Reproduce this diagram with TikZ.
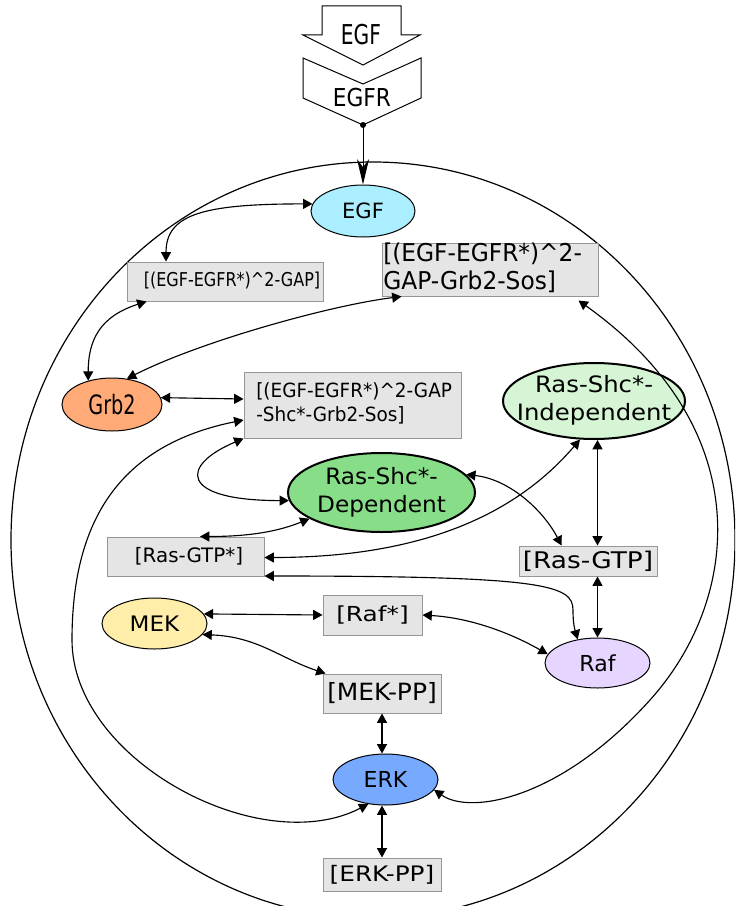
\documentclass[tikz,border=0pt]{standalone}
\usepackage{fontspec}
\setmainfont{DejaVu Sans}
\usepackage{graphicx}
\usetikzlibrary{arrows.meta,shapes.geometric,calc}
\definecolor{boxfill}{RGB}{229,229,229}
\definecolor{boxline}{RGB}{150,150,150}
\definecolor{egfc}{RGB}{170,238,255}
\definecolor{grbc}{RGB}{255,170,119}
\definecolor{depc}{RGB}{136,221,136}
\definecolor{indc}{RGB}{213,245,213}
\definecolor{rafc}{RGB}{229,213,255}
\definecolor{mekc}{RGB}{255,238,170}
\definecolor{erkc}{RGB}{119,170,255}
\newcommand{\fs}[2]{\fontsize{#1}{#2}\selectfont}
\newcommand{\sx}[2]{\scalebox{#1}[1]{#2}}
\begin{document}
\begin{tikzpicture}[x=0.75pt,y=-0.75pt,
  species/.style={ellipse,draw=black,line width=0.75pt,inner sep=0pt},
  thickspecies/.style={ellipse,draw=black,line width=1.5pt,inner sep=0pt},
  cbox/.style={rectangle,draw=boxline,fill=boxfill,line width=0.75pt,inner sep=0pt},
  txt/.style={inner sep=0pt},
  conn/.style={line width=0.85pt,{Triangle[length=7pt,width=7.5pt]}-{Triangle[length=7pt,width=7.5pt]}},
]
\useasboundingbox (0,0) rectangle (735,906);
\begin{scope}
\clip (0,0) rectangle (735,906);
% cell
\draw[line width=0.9pt] (373,540) ellipse [x radius=271.5pt, y radius=283.5pt];

% top block arrows
\draw[line width=0.75pt,fill=white] (322,6) -- (401,6) -- (401,35) -- (420,35) -- (363,65) -- (303,35) -- (322,35) -- cycle;
\draw[line width=0.75pt,fill=white] (303,58) -- (363,84) -- (421,58) -- (421,98) -- (363,125) -- (303,98) -- cycle;
\node[txt] (tegfin) at (361,35) {\fs{20.5}{24}\sx{0.74}{EGF}};
\node[txt] (tegfr) at (362,97.5) {\fs{18.5}{22}\sx{0.88}{EGFR}};
\coordinate (egfrtip) at (363,125);

% species
\node[species,fill=egfc,minimum width=78pt,minimum height=39pt] (egf) at (363,211) {};
\node[species,fill=grbc,minimum width=75pt,minimum height=39.75pt] (grb) at (112,404.5) {};
\node[thickspecies,fill=depc,minimum width=140.25pt,minimum height=59.25pt] (dep) at (381.5,492.5) {};
\node[thickspecies,fill=indc,minimum width=136.5pt,minimum height=57pt] (ind) at (594,401) {};
\node[species,fill=rafc,minimum width=78.75pt,minimum height=37.5pt] (raf) at (597.5,663) {};
\node[species,fill=mekc,minimum width=78.75pt,minimum height=38.25pt] (mek) at (154.5,623.5) {};
\node[species,fill=erkc,minimum width=78.75pt,minimum height=38.25pt] (erk) at (385.5,779.5) {};

% complexes
\node[cbox,minimum width=147pt,minimum height=29.25pt] (gap) at (225,281.5) {};
\node[cbox,minimum width=162pt,minimum height=39.75pt] (gapgrb) at (490,269.5) {};
\node[cbox,minimum width=162.75pt,minimum height=49.5pt] (gapshc) at (352.5,405) {};
\node[cbox,minimum width=117.75pt,minimum height=29.25pt] (rasstar) at (185.5,556.5) {};
\node[cbox,minimum width=103.5pt,minimum height=22.5pt] (rasgtp) at (588,561) {};
\node[cbox,minimum width=74.25pt,minimum height=30pt] (rafstar) at (372.5,615) {};
\node[cbox,minimum width=88.5pt,minimum height=29.25pt] (mekpp) at (382,693.5) {};
\node[cbox,minimum width=88.5pt,minimum height=24.75pt] (erkpp) at (382,874.5) {};

% texts
\node[txt] (tegf) at (egf) {\fs{15.8}{18}EGF};
\node[txt] (tgrb) at (grb) {\fs{20}{24}\sx{0.72}{Grb2}};
\node[txt] (tdep) at (dep) {\fs{16.9}{21}\sx{1.03}{\begin{tabular}{@{}c@{}}Ras-Shc*-\\Dependent\end{tabular}}};
\node[txt] (tind) at (ind) {\fs{16.9}{21}\sx{1.08}{\begin{tabular}{@{}c@{}}Ras-Shc*-\\Independent\end{tabular}}};
\node[txt] (traf) at (raf) {\fs{16.5}{20}Raf};
\node[txt] (tmek) at (mek) {\fs{16}{20}\sx{1.08}{MEK}};
\node[txt] (terk) at (erk) {\fs{16.5}{20}ERK};
\node[txt] (tgap) at (232,281) {\fs{14.3}{17}\sx{0.84}{[(EGF-EGFR*)\^{}2-GAP]}};
\node[txt,anchor=west] (tgapgrb) at (383,270) {\fs{18.4}{21}\sx{0.95}{\begin{tabular}{@{}l@{}}[(EGF-EGFR*)\^{}2-\\GAP-Grb2-Sos]\end{tabular}}};
\node[txt,anchor=west] (tgapshc) at (256,405) {\fs{14.7}{18}\sx{0.94}{\begin{tabular}{@{}l@{}}[(EGF-EGFR*)\^{}2-GAP\\-Shc*-Grb2-Sos]\end{tabular}}};
\node[txt] (trasstar) at (189,556.5) {\fs{14.9}{18}[Ras-GTP*]};
\node[txt] (trasgtp) at (rasgtp) {\fs{17.2}{20}\sx{1.15}{[Ras-GTP]}};
\node[txt] (trafstar) at (rafstar) {\fs{15.5}{18}\sx{1.2}{[Raf*]}};
\node[txt] (tmekpp) at (mekpp) {\fs{17.8}{20}\sx{1.05}{[MEK-PP]}};
\node[txt] (terkpp) at (erkpp) {\fs{16}{20}\sx{1.16}{[ERK-PP]}};

% connectors
\fill (egfrtip) circle (3);
\draw[line width=0.75pt,-{Stealth[length=19pt,width=9pt,inset=6pt]}] (egfrtip) -- (egf.north);

\draw[conn] ($(gap.north)+(-59,0)$) .. controls +(0,-47) and +(-110,0) .. (egf.172);
\draw[conn] ($(gap.south west)+(20,0)$) .. controls +(-47,15) and +(0,-40) .. (grb.135);
\draw[conn] (grb.60) .. controls +(73,-37) and +(-72,9) .. ($(gapgrb.south west)+(20,0)$);
\draw[conn] (grb.8) -- ($(gapshc.west)+(0,-6)$);
\draw[conn] ($(gapshc.west)+(0,15)$) .. controls (120,445) and (72,520) .. (72,640) .. controls (72,760) and (260,860) .. (erk.235);
\draw[conn] (gapshc.south west) .. controls +(-64,27) and +(-110,0) .. (dep.185);
\draw[conn] (dep.200) .. controls +(-37,15) and +(40,0) .. ($(rasstar.north)+(14.5,0)$);
\draw[conn] ($(rasstar.east)+(0,1)$) .. controls +(166,0) and +(-60,70) .. (ind.250);
\draw[conn] (dep.12) .. controls +(45,5) and +(-17,-33) .. ($(rasgtp.north west)+(43,0)$);
\draw[conn] (ind.south -| raf.north) -- (rasgtp.north -| raf.north);
\draw[conn] (rasgtp.south -| raf.north) -- (raf.north);
\draw[conn] ($(rasstar.east)+(0,19.5)$) .. controls (545,576) and (573,585) .. (573,610) .. controls (573,625) and (575,630) .. (raf.130);
\draw[conn] (rafstar.east) .. controls +(50,3) and +(-35,-20) .. (raf.170);
\draw[conn] (mek.11) -- (rafstar.west);
\draw[conn] (mek.347) .. controls +(55,2) and +(-45,-15) .. ($(mekpp.north west)+(3,0)$);
\draw[conn] (mekpp.south) -- (mekpp.south |- erk.north);
\draw[conn] (erk.south -| erkpp.north) -- (erkpp.north);
\draw[conn] (erk.348) .. controls (470,815) and (560,800) .. (650,700) .. controls (740,600) and (760,430) .. ($(gapgrb.south east)+(-20,4)$);
\end{scope}
\end{tikzpicture}
\end{document}
